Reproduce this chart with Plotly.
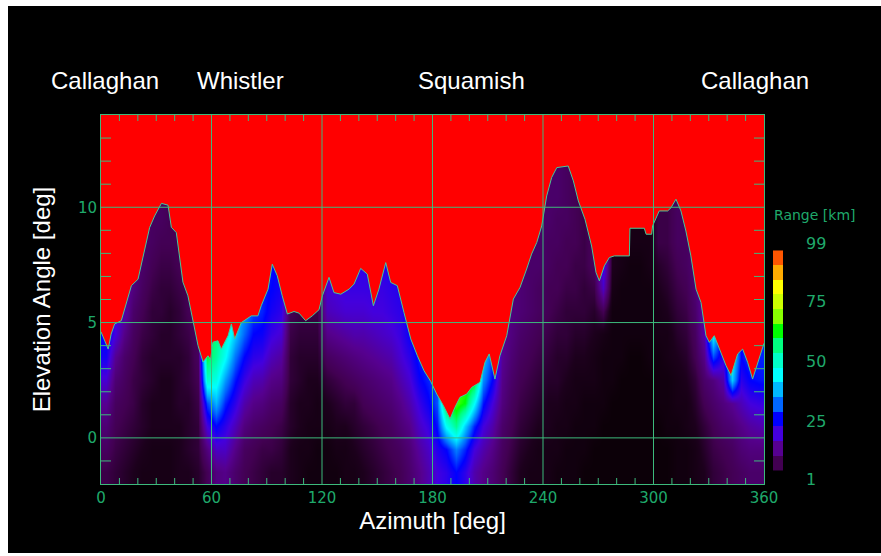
import numpy as np
import plotly.graph_objects as go

# ---------------- data ----------------
# terrain horizon (elevation angle of the skyline) vs azimuth
az_horizon = [0, 2, 3.9, 5.5, 7.4, 11, 12.8, 16.5, 20.1, 21.9, 26.4, 29.1, 32.8, 36.4, 38.2,
              40.9, 44.5, 47.2, 50, 52.7, 55.4, 58.1, 59.5, 60.8, 63.5, 65.3, 69, 70.8, 72.6,
              76.2, 81.6, 85.2, 87, 90.7, 93, 95.7, 98.4, 101.2, 104.8, 107.5, 111.1, 114.7,
              118.4, 120.2, 123.8, 126.5, 130.2, 134.7, 137.4, 141, 144.6, 147.9, 150.9, 154.6,
              157.3, 160.9, 164.5, 168.2, 171.8, 175.4, 179, 182.3, 185.9, 189.5, 192.2, 194.9,
              198.6, 201.3, 205.8, 208.5, 210.8, 213.9, 216.6, 220.3, 223.9, 227.5, 231.1,
              233.8, 236.6, 239.3, 242, 244.7, 247.5, 253.7, 256.5, 259.2, 262.8, 266.4, 268.8,
              270.6, 273.3, 276, 278.7, 286.9, 287.2, 295, 296, 299, 299.5, 303.1, 307.7, 309.5,
              312.2, 314.9, 317.6, 320.3, 323.1, 325.8, 328.5, 330.3, 333, 335.7, 339.4, 342.1,
              345.7, 348.4, 351.1, 353.8, 356.6, 359.3, 360]
el_horizon = [4.6, 4.2, 3.85, 4.5, 4.94, 5.08, 5.58, 6.6, 6.88, 7.53, 9.12, 9.62, 10.17, 10.09, 9.13,
              8.9, 6.75, 6.16, 5.0, 4.0, 3.29, 3.56, 3.4, 4.15, 4.21, 3.85, 4.43, 4.94, 4.29,
              5.0, 5.29, 5.29, 5.73, 6.45, 7.53, 7.03, 6.16, 5.37, 5.48, 5.41, 5.08, 5.29,
              5.56, 6.16, 6.96, 6.3, 6.23, 6.45, 6.67, 7.35, 7.1, 5.73, 6.45, 7.6,
              6.74, 6.6, 5.44, 4.29, 3.56, 2.91, 2.45, 1.9, 1.4, 0.82, 1.33, 1.76,
              1.9, 2.19, 2.41, 3.28, 3.64, 2.55, 3.56, 4.43, 6.02, 6.52, 7.32,
              7.97, 8.47, 9.19, 10.49, 11.29, 11.72, 11.79, 11.14, 10.27, 9.48, 8.32, 7.17,
              6.81, 7.46, 7.82, 7.89, 7.89, 9.09, 9.09, 8.83, 8.83, 9.19, 9.84, 9.84, 9.98,
              10.35, 9.84, 8.97, 7.89, 6.45, 5.87, 4.43, 4.14, 4.43, 3.85, 3.13, 2.7,
              3.64, 3.85, 3.28, 2.55, 3.28, 4.0, 4.1]

# range to terrain [km]; one profile per 5-degree azimuth column,
# listed from elevation -1.5 deg upward in 1-degree steps (up to the skyline)
az_centers = list(np.arange(2.5, 360, 5.0))
el_centers = list(np.arange(-1.5, 12.0, 1.0))
range_cols = [
    [7, 9, 11, 14, 19, 24, 26], [6, 7, 8, 9, 11, 14, 20], [5, 6, 7, 8, 9, 10, 13, 16],
    [4, 5, 6, 7, 7, 8, 9, 10, 12], [3, 4, 5, 5, 6, 6, 7, 8, 9, 10], [3, 3, 4, 4, 5, 5, 6, 6, 7, 8, 9],
    [3, 3, 4, 4, 4, 5, 5, 6, 6, 7, 8, 9], [3, 3, 4, 4, 4, 5, 5, 5, 6, 7, 8, 8],
    [4, 4, 4, 5, 5, 5, 6, 6, 7, 8, 8], [4, 5, 5, 5, 6, 6, 7, 8, 8], [5, 6, 6, 7, 8, 9, 9],
    [8, 12, 20, 30, 50, 60], [12, 18, 26, 38, 47, 54, 57], [13, 18, 22, 28, 36, 45, 50],
    [10, 13, 17, 22, 27, 33, 40], [8, 9, 12, 16, 21, 26, 32, 36], [7, 8, 10, 13, 17, 22, 26, 30],
    [6, 7, 9, 12, 16, 21, 25, 28], [5, 7, 8, 10, 13, 17, 21, 24, 26, 27],
    [5, 6, 7, 9, 12, 15, 19, 22, 24], [4, 4, 5, 5, 6, 6, 7, 8], [3, 3, 4, 4, 5, 5, 6, 7],
    [2, 3, 3, 4, 4, 5, 6, 7], [2, 2, 3, 3, 4, 5, 6, 7], [2, 2, 3, 4, 6, 9, 13, 17, 19, 20],
    [2, 3, 4, 5, 7, 10, 14, 18, 20], [3, 3, 4, 6, 8, 11, 15, 19, 21], [3, 4, 5, 6, 9, 12, 16, 19, 21],
    [4, 5, 6, 8, 10, 13, 16, 19, 21, 22], [5, 6, 7, 9, 11, 14, 17, 20, 21],
    [6, 7, 8, 10, 12, 15, 18, 20, 21, 22], [7, 8, 9, 11, 13, 16, 19, 21, 22, 23],
    [8, 9, 11, 13, 16, 19, 21, 22, 23], [10, 11, 13, 16, 19, 22, 25], [13, 15, 18, 21, 25, 28],
    [16, 18, 21, 25, 28], [20, 23, 27, 31], [22, 26, 45, 62], [26, 34, 55, 66],
    [22, 28, 40, 62, 66], [16, 20, 28, 45, 64], [13, 16, 20, 27, 35, 40],
    [11, 13, 16, 20, 26, 30], [8, 9, 10, 12, 13, 14], [6, 7, 8, 9, 10, 11, 12, 12],
    [4, 5, 6, 7, 8, 9, 10, 11, 11], [3, 4, 5, 6, 7, 8, 9, 10, 10, 10],
    [3, 3, 4, 5, 6, 7, 8, 9, 9, 10, 10], [3, 3, 4, 4, 5, 6, 7, 8, 8, 9, 9, 10, 10],
    [2, 3, 3, 4, 5, 5, 6, 7, 8, 8, 9, 9, 10, 10], [2, 2, 3, 3, 4, 5, 6, 6, 7, 8, 8, 9, 9, 9],
    [2, 2, 2, 3, 3, 4, 5, 6, 7, 7, 8, 8, 8], [1, 2, 2, 2, 3, 4, 5, 6, 6, 7, 7],
    [1, 1, 2, 2, 3, 3, 4, 5, 7, 9], [1, 1, 1, 2, 2, 2, 3, 8, 18, 22],
    [1, 1, 1, 1, 2, 2, 2, 2, 3, 4], [1, 1, 1, 1, 1, 2, 2, 2, 2, 3],
    [1, 1, 1, 1, 1, 1, 2, 2, 2, 2, 3], [1, 1, 1, 1, 1, 1, 2, 2, 2, 2, 3],
    [1, 1, 1, 1, 1, 2, 2, 2, 2, 3, 3], [1, 1, 1, 2, 2, 2, 3, 3, 4, 5, 7, 7],
    [1, 1, 2, 2, 2, 3, 3, 4, 5, 6, 7, 7], [2, 2, 2, 3, 3, 4, 5, 6, 7, 8, 9, 9],
    [2, 2, 3, 3, 4, 5, 6, 7, 8, 9, 9], [3, 3, 4, 5, 6, 8, 9, 10, 11],
    [4, 5, 6, 8, 10, 13, 16], [6, 7, 8, 10, 12, 30, 45], [7, 8, 10, 12, 16, 22],
    [8, 9, 11, 14, 40, 45], [9, 11, 13, 17, 22, 26], [10, 12, 15, 20, 26, 30],
    [10, 12, 16, 21, 27, 28],
]

# labels
place_names = ["Callaghan", "Whistler", "Squamish", "Callaghan"]
place_az = [2.2, 75.5, 201, 355]
x_range = [0, 360]
y_range = [-2, 14]
x_ticks = [0, 60, 120, 180, 240, 300, 360]
y_ticks = [0, 5, 10]
x_minor_ticks = [v for v in range(10, 360, 10) if v not in x_ticks]
y_minor_ticks = [v for v in range(-1, 14) if v not in y_ticks]
range_ticks = [1, 25, 50, 75, 99]
n_levels = 15

# ---------------- styling ----------------
GREEN_TXT = "#1fa96b"
GRID = "#3dba7c"
RIDGE = "#45c99a"
SKY = "#ff0000"
W, H = 881, 556
ML, MR, MT, MB = 101, 98, 115, 72
PW = W - ML - MR            # 682
PH = H - MT - MB            # 369
main_w = 663                # main plot width in px (101 .. 764)
main_right = main_w / PW
px_per_az = main_w / (x_range[1] - x_range[0])
px_per_el = PH / (y_range[1] - y_range[0])

colorscale = [
    [0.0, "#0c0008"], [(4 - 1) / 98, "#1c001c"], [(7.75 - 1) / 98, "#420052"],
    [(13.8 - 1) / 98, "#560090"], [(19.9 - 1) / 98, "#4400dd"], [(26.0 - 1) / 98, "#0000ff"],
    [(32.1 - 1) / 98, "#0066ff"], [(38.2 - 1) / 98, "#00b8ff"], [(44.3 - 1) / 98, "#00ffff"],
    [(50.4 - 1) / 98, "#00ffc8"], [(56.5 - 1) / 98, "#00ff80"], [(62.6 - 1) / 98, "#00ff00"],
    [(68.7 - 1) / 98, "#88ff00"], [(74.8 - 1) / 98, "#ccff00"], [(80.9 - 1) / 98, "#ffff00"],
    [(87.0 - 1) / 98, "#ffaa00"], [(93.1 - 1) / 98, "#ff5500"], [1.0, "#ff3300"],
]

# build the z grid (columns padded upward with their skyline value, hidden by the sky)
nrow = len(el_centers)
z = [[col[r] if r < len(col) else col[-1] for col in range_cols] for r in range(nrow)]

fig = go.Figure()

fig.add_trace(go.Heatmap(
    x=az_centers, y=el_centers, z=z, zmin=1, zmax=99, colorscale=colorscale,
    zsmooth="best", showscale=False, hoverinfo="skip"))

# sky above the skyline
fig.add_trace(go.Scatter(
    x=az_horizon + [x_range[1], x_range[0]], y=el_horizon + [y_range[1], y_range[1]],
    mode="lines", fill="toself", fillcolor=SKY, line=dict(width=0, color=SKY),
    hoverinfo="skip"))

# skyline outline
fig.add_trace(go.Scatter(
    x=az_horizon, y=el_horizon, mode="lines", line=dict(color=RIDGE, width=1),
    hoverinfo="skip"))

# grid lines + inward minor ticks, drawn on top of the image
gx, gy = [], []
for xv in x_ticks[1:-1]:
    gx += [xv, xv, None]
    gy += [y_range[0], y_range[1], None]
for yv in y_ticks:
    gx += [x_range[0], x_range[1], None]
    gy += [yv, yv, None]
xt = 6 / px_per_el          # 6 px long ticks on bottom/top
for xv in x_minor_ticks:
    gx += [xv, xv, None, xv, xv, None]
    gy += [y_range[0], y_range[0] + xt, None, y_range[1] - xt, y_range[1], None]
yt = 10 / px_per_az         # 10 px long ticks on left/right
for yv in y_minor_ticks:
    gx += [x_range[0], x_range[0] + yt, None, x_range[1] - yt, x_range[1], None]
    gy += [yv, yv, None, yv, yv, None]
fig.add_trace(go.Scatter(x=gx, y=gy, mode="lines", line=dict(color=GRID, width=1),
                         hoverinfo="skip", cliponaxis=False))

# discrete colour bar (drawn as a small heatmap on its own axes)
cb_edges = list(np.linspace(4.7, 96.1, n_levels + 1))
cb_centers = [(cb_edges[i] + cb_edges[i + 1]) / 2 for i in range(n_levels)]
fig.add_trace(go.Heatmap(
    x=[0, 1], y=cb_edges, z=[[v] for v in cb_centers], zmin=1, zmax=99,
    colorscale=colorscale, showscale=False, xaxis="x2", yaxis="y2", hoverinfo="skip"))


def px_x(p):
    return (p - ML) / PW


def px_y(p):
    return (H - MB - p) / PH


# white frame around the black picture
shapes = []
for (x0, x1, y0, y1) in [(0, 8, 0, H), (0, W, 0, 6), (0, W, 553, H)]:
    shapes.append(dict(type="rect", xref="paper", yref="paper", x0=px_x(x0), x1=px_x(x1),
                       y0=px_y(y1), y1=px_y(y0), fillcolor="white", line=dict(width=0),
                       layer="above"))

annotations = []
for name, a in zip(place_names, place_az):
    annotations.append(dict(text=name, x=a, xref="x", y=px_y(81), yref="paper",
                            showarrow=False, xanchor="center", yanchor="middle",
                            font=dict(family="Liberation Sans, Arial", size=24, color="white")))
annotations.append(dict(text="Range [km]", x=px_x(772), y=px_y(215), xref="paper", yref="paper",
                        showarrow=False, xanchor="left", yanchor="middle",
                        font=dict(family="DejaVu Sans", size=14, color=GREEN_TXT)))

tickfont = dict(family="DejaVu Sans", size=15, color=GREEN_TXT)
titlefont = dict(family="Liberation Sans, Arial", size=24, color="white")

fig.update_layout(
    width=W, height=H, margin=dict(l=ML, r=MR, t=MT, b=MB, pad=0),
    paper_bgcolor="black", plot_bgcolor="black", showlegend=False,
    shapes=shapes, annotations=annotations,
    xaxis=dict(domain=[0, main_right], range=x_range, tickvals=x_ticks, ticks="",
               showgrid=False, zeroline=False, showline=True, linecolor=GRID, linewidth=1,
               mirror=True, tickfont=tickfont, layer="above traces",
               title=dict(text="Azimuth [deg]", font=titlefont, standoff=4)),
    yaxis=dict(domain=[0, 1], range=y_range, tickvals=y_ticks, ticks="",
               showgrid=False, zeroline=False, showline=True, linecolor=GRID, linewidth=1,
               mirror=True, tickfont=tickfont, layer="above traces",
               title=dict(text="Elevation Angle [deg]", font=titlefont, standoff=20)),
    xaxis2=dict(domain=[px_x(773), 1], range=[0, 1], visible=False, anchor="y2"),
    yaxis2=dict(domain=[px_y(480), px_y(243)], range=[0.8, 99.2], anchor="x2", side="right",
                tickvals=range_ticks, ticks="", showgrid=False, zeroline=False,
                showline=False, tickfont=dict(family="DejaVu Sans", size=16, color=GREEN_TXT),
                ticklabelstandoff=22),
)

fig.write_html("out.html")
